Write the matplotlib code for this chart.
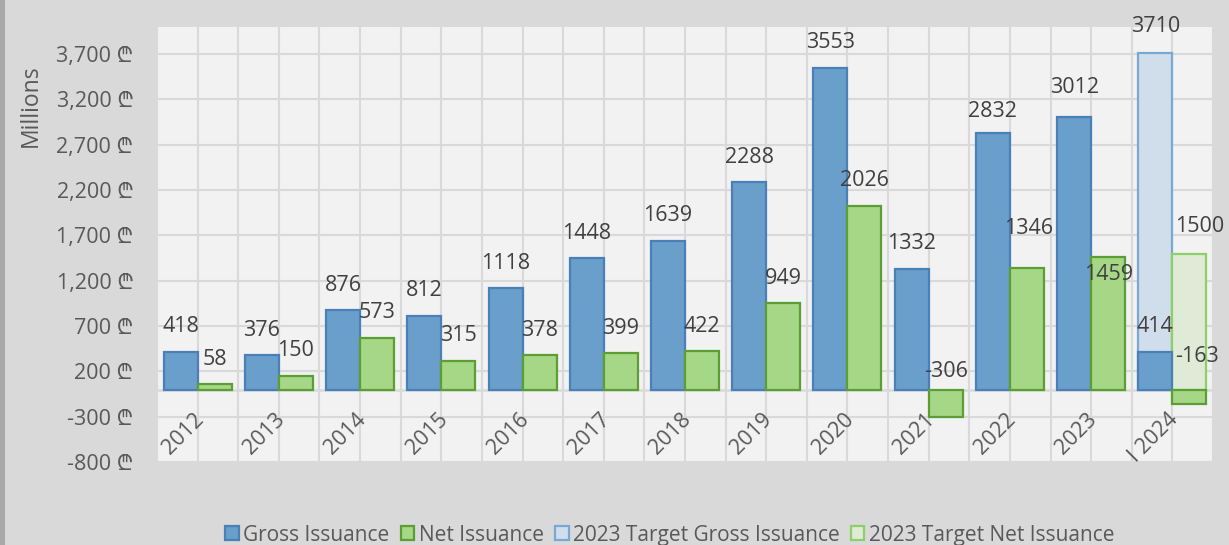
import numpy as np
import matplotlib
matplotlib.use("Agg")
import matplotlib.pyplot as plt
from matplotlib.patches import Patch, Rectangle

FAMS = ['Open Sans', 'Noto Sans', 'Inter', 'Roboto', 'Lato', 'DejaVu Sans', 'Liberation Sans']
plt.rcParams['font.family'] = FAMS

categories = ["2012", "2013", "2014", "2015", "2016", "2017", "2018",
              "2019", "2020", "2021", "2022", "2023", "I 2024"]
gross = [418, 376, 876, 812, 1118, 1448, 1639, 2288, 3553, 1332, 2832, 3012, 414]
net = [58, 150, 573, 315, 378, 399, 422, 949, 2026, -306, 1346, 1459, -163]
target_gross = [None] * 12 + [3710]
target_net = [None] * 12 + [1500]
yticks = [-800, -300, 200, 700, 1200, 1700, 2200, 2700, 3200, 3700]
legend_labels = ["Gross Issuance", "Net Issuance", "2023 Target Gross Issuance", "2023 Target Net Issuance"]

# label offsets in pixels (dx, dy) from bar end
gross_off = [(0, 25)] * 13
gross_off[10] = (0, 21)
gross_off[11] = (0, 29)
net_off = [(0, 25)] * 13
net_off[9] = (0, 46)
net_off[10] = (2, 39)
net_off[11] = (0, -17)
net_off[12] = (8, 48)

TXT = '#595959'
LBL = '#404040'
BG = '#D9D9D9'
PLOT = '#F2F2F2'
GRID = '#D9D9D9'
G_FILL, G_EDGE = '#6A9FCB', '#4A80B8'
N_FILL, N_EDGE = '#A6D787', '#5A9E34'
TG_FILL, TG_EDGE = '#D0DDEA', '#7AA8D6'
TN_FILL, TN_EDGE = '#DFEBD7', '#8DD068'
FS = 15.5

fig = plt.figure(figsize=(12.29, 5.45), dpi=100, facecolor=BG)
fig.patches.append(Rectangle((0, 0), 5 / 1229, 1, transform=fig.transFigure,
                             facecolor='#A9A9A9', edgecolor='none', zorder=0))
ax = fig.add_axes([157 / 1229, 1 - 462 / 545, 1056 / 1229, 435 / 545])
ax.set_facecolor(PLOT)

x = np.arange(len(categories))
w = 0.419

# target bars (background)
tg_x = [xi - w / 2 for xi, v in zip(x, target_gross) if v is not None]
tg_v = [v for v in target_gross if v is not None]
tn_x = [xi + w / 2 for xi, v in zip(x, target_net) if v is not None]
tn_v = [v for v in target_net if v is not None]
ax.bar(tg_x, tg_v, width=w, color=TG_FILL, edgecolor=TG_EDGE, linewidth=1.6, zorder=2)
ax.bar(tn_x, tn_v, width=w, color=TN_FILL, edgecolor=TN_EDGE, linewidth=1.6, zorder=2)

ax.bar(x - w / 2, gross, width=w, color=G_FILL, edgecolor=G_EDGE, linewidth=1.6, zorder=3)
ax.bar(x + w / 2, net, width=w, color=N_FILL, edgecolor=N_EDGE, linewidth=1.6, zorder=3)

ax.set_xlim(-0.5, len(categories) - 0.5)
ax.set_ylim(-800, 4000)

# grid
ax.set_yticks(yticks)
ax.set_yticklabels([f"{v:,} \u20be" for v in yticks], family=FAMS)
ax.set_xticks([])
ax.set_xticks(np.arange(-0.5, len(categories), 0.5), minor=True)
ax.tick_params(axis='x', which='both', length=0, labelbottom=False)
ax.tick_params(axis='y', length=0, pad=17, labelsize=FS, labelcolor=TXT)
ax.grid(True, which='major', axis='y', color=GRID, linewidth=1.5, zorder=0)
ax.grid(True, which='minor', axis='x', color=GRID, linewidth=1.5, zorder=0)
ax.axhline(0, color=GRID, linewidth=1.8, zorder=1)
ax.set_axisbelow(True)
for s in ax.spines.values():
    s.set_visible(False)

ax.set_ylabel("Millions", fontsize=16.5, color=TXT)
ax.yaxis.set_label_coords(-0.108, 0.818)

# data labels
for xi, v, (dx, dy) in zip(x, gross, gross_off):
    ax.annotate(str(v), (xi - w / 2, v), xytext=(dx, dy), textcoords='offset pixels',
                ha='center', va='center', fontsize=FS, color=LBL, zorder=5)
for xi, v, (dx, dy) in zip(x, net, net_off):
    ax.annotate(str(v), (xi + w / 2, v), xytext=(dx, dy), textcoords='offset pixels',
                ha='center', va='center', fontsize=FS, color=LBL, zorder=5)
for xx, v in zip(tg_x, tg_v):
    ax.annotate(str(v), (xx, v), xytext=(0, 27), textcoords='offset pixels',
                ha='center', va='center', fontsize=FS, color=LBL, zorder=5)
for xx, v in zip(tn_x, tn_v):
    ax.annotate(str(v), (xx, v), xytext=(10, 27), textcoords='offset pixels',
                ha='center', va='center', fontsize=FS, color=LBL, zorder=5)

# category labels next to zero axis
for xi, c in zip(x, categories):
    ax.annotate(c, (xi, 0), xytext=(3, -27), textcoords='offset pixels',
                ha='right', va='center', rotation=45, rotation_mode='anchor',
                fontsize=FS, color=TXT, zorder=5)

handles = [Patch(facecolor=G_FILL, edgecolor=G_EDGE, linewidth=1.6),
           Patch(facecolor=N_FILL, edgecolor=N_EDGE, linewidth=1.6),
           Patch(facecolor=TG_FILL, edgecolor=TG_EDGE, linewidth=1.6),
           Patch(facecolor=TN_FILL, edgecolor=TN_EDGE, linewidth=1.6)]
fig.legend(handles, legend_labels, loc='center', bbox_to_anchor=(0.545, 0.018),
           ncol=4, frameon=False, fontsize=15, labelcolor=TXT,
           handlelength=0.65, handleheight=0.65, handletextpad=0.2, columnspacing=0.55,
           borderaxespad=0, borderpad=0)

fig.savefig("out.png", dpi=100, facecolor=BG)
